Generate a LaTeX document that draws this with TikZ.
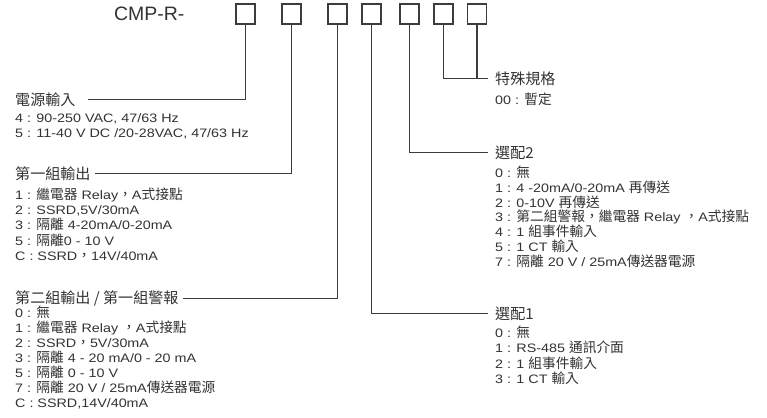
\documentclass[tikz,border=0pt]{standalone}
\usepackage{fontspec}
\setmainfont{Liberation Sans}[FakeStretch=1.17]
\newfontfamily\titlefont{Liberation Sans}
\newfontfamily\cjkfont{Noto Sans CJK TC}[Scale=1.12]
\newcommand\zh[1]{{\cjkfont #1}}
\definecolor{ink}{HTML}{333333}
\definecolor{wire}{HTML}{3C3C3C}
\begin{document}
\begin{tikzpicture}[x=1bp,y=-1bp,
  box/.style={draw=wire, line width=1.3bp, minimum width=19bp, minimum height=20bp, inner sep=0pt},
  wirestyle/.style={draw=wire, line width=1.1bp},
  head/.style={anchor=base west, inner sep=0pt, text=ink, font=\fontsize{13.5}{16}\selectfont\cjkfont},
  item/.style={anchor=base west, inner sep=0pt, text=ink, font=\fontsize{12.3}{15}\selectfont},
]
\fill[white] (0,0) rectangle (767,417);
\useasboundingbox (0,0) rectangle (767,417);

% title and boxes
\node[anchor=base west, inner sep=0pt, text=ink, font=\fontsize{19.5}{22}\selectfont\titlefont] (title) at (114,20.8) {CMP-R-};
\foreach \n/\x in {1/245.5, 2/291.5, 3/337.5, 4/371.5, 5/409.5, 6/443.5, 7/477}
  \node[box] (b\n) at (\x,14) {};

% headings
\node[head] (hp)  at (15,105.5)  {電源輸入};
\node[head] (h1)  at (15,179.5)  {第一組輸出};
\node[head] (h2)  at (15,303.5)  {第二組輸出 / 第一組警報};
\node[head] (hs2) at (495,158.5) {選配2};
\node[head] (hs1) at (495,319.5) {選配1};
\node[head] (hsp) at (495,84.5)  {特殊規格};

% connectors
\draw[wirestyle] (b1.south) |- ([xshift=12bp]hp.east);
\draw[wirestyle] (b2.south) |- ([xshift=4bp]h1.east);
\draw[wirestyle] (b3.south) |- ([xshift=4bp]h2.east);
\draw[wirestyle] (b4.south) |- ([xshift=-7bp]hs1.west);
\draw[wirestyle] (b5.south) |- ([xshift=-7bp]hs2.west);
\draw[wirestyle] (b6.south) |- ([xshift=-7bp]hsp.west);
\draw[wirestyle] (b7.south) -- (b7.south |- hsp.west);

% items
\node[item] (sp0) at (495,104.5) {00 : \zh{暫定}};

\foreach \t [count=\i from 0] in {
  {4 : 90-250 VAC, 47/63 Hz},
  {5 : 11-40 V DC /20-28VAC, 47/63 Hz}}
  \node[item] (p\i) at (15,122.5+15*\i) {\t};

\foreach \t [count=\i from 0] in {
  {1 : \zh{繼電器} Relay\zh{，}A\zh{式接點}},
  {2 : SSRD,5V/30mA},
  {3 : \zh{隔離} 4-20mA/0-20mA},
  {5 : \zh{隔離}0 - 10 V},
  {C : SSRD\zh{，}14V/40mA}}
  \node[item] (oa\i) at (15,199.5+15.2*\i) {\t};

\foreach \t [count=\i from 0] in {
  {0 : \zh{無}},
  {1 : \zh{繼電器} Relay \zh{，}A\zh{式接點}},
  {2 : SSRD\zh{，}5V/30mA},
  {3 : \zh{隔離} 4 - 20 mA/0 - 20 mA},
  {5 : \zh{隔離} 0 - 10 V},
  {7 : \zh{隔離} 20 V / 25mA\zh{傳送器電源}},
  {C : SSRD,14V/40mA}}
  \node[item] (ob\i) at (15,317.5+15*\i) {\t};

\foreach \t [count=\i from 0] in {
  {0 : \zh{無}},
  {1 : 4 -20mA/0-20mA \zh{再傳送}},
  {2 : 0-10V \zh{再傳送}},
  {3 : \zh{第二組警報，繼電器} Relay \zh{，}A\zh{式接點}},
  {4 : 1 \zh{組事件輸入}},
  {5 : 1 CT \zh{輸入}},
  {7 : \zh{隔離} 20 V / 25mA\zh{傳送器電源}}}
  \node[item] (sb\i) at (495,177.5+14.8*\i) {\t};

\foreach \t [count=\i from 0] in {
  {0 : \zh{無}},
  {1 : RS-485 \zh{通訊介面}},
  {2 : 1 \zh{組事件輸入}},
  {3 : 1 CT \zh{輸入}}}
  \node[item] (sa\i) at (495,337.5+15.3*\i) {\t};
\end{tikzpicture}
\end{document}
